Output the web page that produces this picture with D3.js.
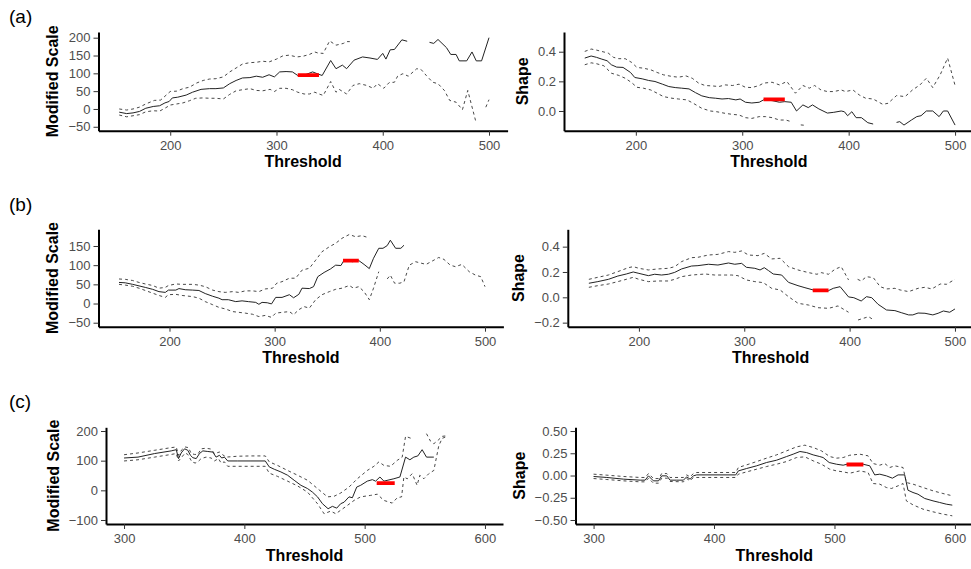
<!DOCTYPE html>
<html>
<head>
<meta charset="utf-8">
<script src="https://cdn.jsdelivr.net/npm/d3@7"></script>
<style>
  body { margin: 0; background: #fff; }
  svg { display: block; }
  .tick text { font-family: "Liberation Sans", Arial, Helvetica, sans-serif; font-size: 13px; fill: #4d4d4d; }
  .tick line { stroke: #333; stroke-width: 1; }
  .domain { stroke: #000; stroke-width: 2; }
  .axis-title { font-family: "Liberation Sans", Arial, Helvetica, sans-serif; font-weight: bold; font-size: 16px; fill: #000; }
  .row-label { font-family: "Liberation Sans", Arial, Helvetica, sans-serif; font-size: 19px; fill: #000; }
</style>
</head>
<body>
<svg id="chart" width="971" height="569"></svg>
<script>
// ---- data: [threshold, value], null = missing ----
const rowLabels = ["(a)", "(b)", "(c)"];
const xTicksAB = [200, 300, 400, 500];
const xTicksC = [300, 400, 500, 600];

const aScaleEst = [[152,-9],[159,-13],[165,-11],[171,-7],[177,2],[184,7],[190,9],[195,17],[199,21],[202,31],[207,33],[215,39],[221,47],[229,55],[237,57],[243,57],[250,59],[256,71],[262,80],[268,87],[275,88],[281,92],[287,89],[293,96],[298,90],[303,104],[309,105],[315,104],[320,94],[327,96],[334,104],[340,97],[343,94],[351,136],[356,113],[362,123],[366,113],[373,137],[381,146],[388,143],[395,139],[400,156],[403,140],[407,166],[411,167],[418,194],[423,190],[433,null],[444,187],[448,184],[452,195],[460,172],[464,153],[469,153],[472,135],[479,135],[484,160],[488,135],[493,135],[500,200]];
const aScaleHi = [[152,0],[159,-3],[165,0],[171,5],[177,14],[185,24],[191,25],[200,49],[206,50],[212,57],[218,61],[225,73],[231,80],[237,84],[243,85],[250,90],[256,104],[262,115],[268,126],[275,130],[281,131],[287,134],[293,132],[300,140],[306,149],[312,151],[319,146],[325,148],[331,153],[336,160],[339,157],[344,156],[350,191],[356,179],[363,184],[366,189],[369,189]];
const aScaleLo = [[152,-17],[159,-22],[165,-19],[171,-16],[177,-8],[184,-5],[190,-6],[195,2],[200,11],[206,14],[212,17],[218,23],[224,30],[231,31],[237,30],[243,30],[250,28],[256,41],[262,51],[268,54],[275,57],[281,52],[287,51],[294,55],[298,49],[303,58],[309,58],[315,54],[320,47],[326,42],[331,42],[336,47],[341,41],[344,38],[351,77],[356,47],[359,55],[366,42],[372,66],[378,71],[385,66],[391,58],[395,71],[401,58],[406,74],[411,75],[414,92],[419,99],[424,92],[432,113],[436,111],[441,94],[447,75],[452,71],[458,52],[463,24],[469,19],[475,-2],[480,52],[488,-40],[492,null],[497,5],[500,26]];
const aScaleRed = [320, 340, 95];

const aShapeEst = [[152,0.357],[158,0.371],[163,0.362],[168,0.35],[173,0.339],[177,0.312],[182,0.296],[188,0.294],[195,0.26],[199,0.226],[206,0.217],[212,0.206],[218,0.199],[225,0.181],[231,0.165],[237,0.158],[243,0.154],[250,0.149],[256,0.124],[262,0.102],[269,0.09],[275,0.086],[281,0.081],[287,0.084],[294,0.075],[298,0.081],[303,0.059],[309,0.054],[316,0.059],[320,0.075],[328,0.07],[335,0.059],[340,0.063],[346,0.059],[351,0],[357,0.041],[362,0.023],[366,0.041],[372,0.014],[380,-0.014],[386,-0.009],[393,0],[396,-0.005],[399,-0.032],[403,-0.005],[407,-0.045],[412,-0.045],[418,-0.079],[423,-0.088],[434,null],[445,-0.077],[448,-0.072],[452,-0.095],[459,-0.061],[464,-0.038],[468,-0.032],[473,0],[479,0],[485,-0.038],[489,0],[493,0],[500,-0.095]];
const aShapeHi = [[152,0.402],[158,0.418],[163,0.411],[170,0.398],[174,0.391],[179,0.362],[184,0.353],[190,0.353],[196,0.328],[201,0.294],[207,0.289],[214,0.278],[220,0.26],[226,0.244],[234,0.233],[240,0.228],[247,0.237],[253,0.221],[259,0.188],[265,0.172],[272,0.169],[278,0.165],[284,0.176],[291,0.172],[297,0.181],[303,0.16],[309,0.158],[316,0.172],[320,0.188],[328,0.194],[335,0.176],[342,0.199],[350,0.12],[357,0.172],[363,0.154],[368,0.172],[374,0.142],[380,0.131],[386,0.131],[393,0.142],[397,0.131],[404,0.142],[410,0.108],[416,0.086],[423,0.081],[432,0.045],[437,0.052],[445,0.104],[453,0.097],[460,0.142],[467,0.176],[473,0.221],[479,0.158],[486,0.244],[493,0.357],[500,0.172]];
const aShapeLo = [[152,0.312],[158,0.325],[163,0.319],[170,0.305],[177,0.255],[184,0.24],[190,0.221],[196,0.192],[201,0.16],[207,0.154],[214,0.142],[220,0.12],[226,0.097],[234,0.086],[240,0.081],[248,0.075],[254,0.052],[262,0.018],[270,0],[276,-0.005],[284,-0.016],[291,-0.023],[297,-0.027],[303,-0.045],[309,-0.05],[316,-0.038],[322,-0.038],[328,-0.045],[335,-0.061],[341,-0.061],[346,-0.072],[350,null],[355,-0.094],[358,-0.096]];
const aShapeRed = [320, 340, 0.079];

const bScaleEst = [[152,55],[158,54],[165,50],[171,46],[177,42],[184,37],[190,31],[196,29],[199,35],[206,35],[209,39],[215,36],[222,35],[228,34],[234,26],[241,19],[247,14],[250,10],[256,10],[263,5],[269,7],[275,5],[282,3],[285,-2],[288,3],[293,2],[297,-1],[301,16],[307,16],[314,23],[318,15],[323,24],[326,40],[333,39],[337,44],[341,70],[347,81],[353,90],[358,100],[363,99],[366,113],[374,109],[380,112],[385,102],[390,91],[394,118],[399,144],[403,144],[407,151],[410,165],[415,144],[420,144],[423,152]];
const bScaleHi = [[152,64],[158,63],[165,60],[171,55],[177,51],[184,47],[190,40],[196,42],[199,47],[206,51],[212,50],[222,50],[228,48],[234,44],[241,35],[247,31],[253,29],[260,31],[266,29],[272,33],[279,33],[285,31],[291,38],[298,40],[302,53],[307,57],[314,66],[320,66],[326,87],[333,92],[339,113],[345,135],[352,148],[358,157],[364,170],[371,180],[377,174],[383,177],[390,171]];
const bScaleLo = [[152,50],[158,48],[165,45],[171,40],[177,34],[184,27],[190,21],[196,16],[199,23],[206,24],[212,21],[222,18],[228,14],[234,5],[241,-3],[247,-10],[253,-14],[260,-21],[266,-23],[272,-25],[279,-28],[285,-34],[291,-31],[297,-36],[301,-25],[307,-23],[314,-21],[318,-29],[323,-16],[328,-8],[333,-12],[339,10],[345,23],[352,31],[358,37],[364,40],[371,47],[375,40],[380,44],[385,31],[390,10],[394,40],[399,83],[403,null],[407,64],[410,74],[414,53],[419,53],[423,57],[428,100],[434,109],[444,102],[450,111],[456,120],[461,115],[467,100],[472,96],[478,102],[485,83],[491,74],[496,70],[500,44]];
const bScaleRed = [365, 380, 112];

const bShapeEst = [[152.5,0.111],[161,0.124],[171,0.142],[180,0.168],[188,0.184],[194.6,0.2],[200,0.189],[209,0.171],[215,0.182],[221.5,0.176],[228,0.182],[234,0.197],[240.5,0.224],[250,0.247],[256,0.25],[266,0.261],[275,0.255],[285,0.271],[291,0.261],[297.5,0.268],[302,0.237],[310,0.229],[315,0.216],[319,0.234],[323,0.211],[327.5,0.184],[335.5,0.176],[342,0.118],[351,0.092],[357.6,0.076],[365.5,0.058],[380,0.053],[384.5,0.071],[391,0.084],[399,0.003],[404,-0.003],[411,-0.029],[416,0.005],[421,-0.003],[427,-0.055],[435,-0.1],[443,-0.105],[449,-0.121],[456,-0.139],[460,-0.139],[465,-0.124],[471.5,-0.126],[479,-0.139],[484,-0.126],[489,-0.108],[495,-0.118],[500,-0.092]];
const bShapeHi = [[152.5,0.142],[161,0.158],[171,0.176],[180,0.203],[190,0.234],[194.6,0.242],[200,0.229],[209,0.216],[218,0.224],[228,0.229],[234,0.242],[240.5,0.282],[250,0.313],[256,0.316],[266,0.334],[275,0.339],[285,0.361],[291,0.355],[297.5,0.366],[304,0.334],[313,0.329],[319,0.347],[326,0.303],[334,0.308],[342,0.242],[351,0.216],[361,0.195],[369,0.182],[373,0.195],[380,0.182],[386,0.221],[392,0.242],[399,0.137],[403,null],[407.6,0.142],[411,0.129],[416,0.163],[422.5,0.155],[429,0.084],[435,0.066],[443,0.071],[448,0.058],[456,0.045],[465,0.071],[471.5,0.079],[478,0.066],[486,0.105],[492,0.103],[500,0.142]];
const bShapeLo = [[152.5,0.079],[161,0.092],[171,0.105],[180,0.124],[188,0.142],[194.6,0.158],[200,0.142],[209,0.124],[218,0.129],[228,0.129],[234,0.142],[240.5,0.163],[250,0.176],[263,0.184],[272,0.176],[282,0.176],[288,0.176],[294,0.171],[302,0.137],[310,0.124],[318,0.116],[326,0.071],[334,0.058],[342,0.005],[351,-0.047],[361,-0.061],[370,-0.082],[380,-0.087],[389,-0.068],[399,-0.118],[403,null],[408,-0.179],[413,-0.166],[418,-0.153],[423,-0.179]];
const bShapeRed = [365, 380, 0.055];

const cScaleEst = [[300,109],[311.6,112],[325.4,124],[339.2,133],[343.4,137],[345.3,107],[347.5,126],[350.3,140],[353,135],[355.2,118],[357.2,110],[360,107],[362.7,124],[365.5,133],[369.6,131],[373.8,129],[376.5,112],[379.3,118],[381.2,109],[383.4,112],[386.2,99],[394.5,99],[405.5,99],[417.4,99],[420.7,79],[424.9,71],[430.4,62],[435.9,51],[441.4,34],[447,17],[452.5,6],[456.6,-6],[460.8,-22],[464.9,-45],[469.6,-62],[473.2,-54],[476.8,-60],[480.1,-45],[482.9,-40],[487,-22],[489.8,-25],[493.4,11],[496.7,17],[502.2,31],[506.4,36],[509.1,31],[512.7,45],[516,31],[524.3,39],[529.3,45],[534,112],[537.6,103],[540.9,112],[544.2,116],[547.8,137],[551.4,112],[557.5,112]];
const cScaleHi = [[300,120],[311.6,126],[325.4,135],[339.2,144],[343.4,146],[345.3,118],[348,137],[350.8,146],[353.6,144],[355.8,124],[358.6,121],[361.3,121],[364.1,140],[368.2,142],[372.4,139],[375.1,124],[379.3,129],[382,120],[384.8,112],[394.5,115],[405.5,116],[417.4,116],[420.7,96],[427.6,84],[435.9,67],[444.2,51],[452.5,34],[460.8,6],[469.1,-22],[474.6,-20],[480.1,-9],[487,11],[493.9,39],[502.2,67],[507.7,81],[511.9,96],[516,84],[521.5,81],[527.1,101],[531.2,112],[534,182],[539.5,174],[545,null],[551.4,191],[554.7,166],[557.5,157],[561.6,171],[564.4,182],[568.5,184]];
const cScaleLo = [[300,99],[311.6,103],[325.4,112],[339.2,121],[343.4,124],[345.3,99],[348,112],[350.8,126],[353,121],[356.4,96],[359.1,92],[361.3,96],[364.1,107],[368.2,112],[372.4,109],[375.1,99],[378.5,107],[380.7,92],[383.4,96],[386.2,81],[417.4,81],[420.7,58],[427.6,47],[435.9,31],[444.2,15],[452.5,-6],[460.8,-45],[466.3,-79],[471.8,-70],[476,-79],[480.1,-67],[485.6,-51],[491.2,-34],[496.7,-22],[505,-17],[510.5,-13],[516,-34],[522.9,-43],[527.1,-25],[530.7,-22],[532.6,45],[535.4,39],[539.5,56],[543.6,17],[545.9,51],[549.2,39],[553.3,56],[557.5,67],[561.6,150],[564.4,175],[568.5,182]];
const cScaleRed = [510, 525, 24];

const cShapeEst = [[300,-0.011],[311,-0.022],[325,-0.041],[338.7,-0.052],[342.8,-0.052],[345.6,-0.004],[349.7,-0.06],[353.9,-0.06],[356.6,-0.004],[360.8,-0.004],[363.5,-0.052],[369,-0.052],[374.6,-0.052],[377.3,-0.015],[380.1,-0.041],[382.9,-0.004],[385.6,0.007],[418,0.007],[420.2,0.052],[427.1,0.079],[435.4,0.109],[443.6,0.146],[451.9,0.172],[460.2,0.213],[465.7,0.24],[471.3,0.27],[476.8,0.258],[482.3,0.232],[487.8,0.213],[490.6,0.202],[495.6,0.146],[501.7,0.127],[507.2,0.116],[510.5,0.127],[523.8,0.127],[529.3,0.109],[533.4,0.007],[537.6,0.015],[543.1,-0.004],[548.1,-0.03],[552.8,0.007],[558.3,0.007],[561,-0.165],[565.2,-0.191],[569.3,-0.21],[574.9,-0.258],[581.8,-0.285],[587.3,-0.303],[592.8,-0.322],[597.8,-0.333]];
const cShapeHi = [[300,0.015],[311,0.004],[325,-0.011],[338.7,-0.022],[342.8,-0.022],[345.6,0.022],[349.7,-0.034],[353.9,-0.034],[356.6,0.022],[360.8,0.022],[363.5,-0.022],[374.6,-0.022],[377.3,0.007],[380.1,-0.015],[382.9,0.022],[385.6,0.034],[418,0.034],[420.2,0.09],[427.1,0.12],[435.4,0.157],[443.6,0.195],[451.9,0.232],[460.2,0.277],[468.5,0.322],[475.4,0.341],[482.3,0.315],[489.2,0.277],[496.1,0.213],[501.7,0.195],[507.2,0.202],[512.7,0.228],[521,0.24],[527.9,0.221],[532,0.135],[537.6,0.116],[541.7,0.135],[545.9,0.09],[550,0.109],[556.9,0.09],[559.7,-0.079],[565.2,-0.097],[573.5,-0.135],[581.8,-0.172],[590,-0.202],[597.8,-0.228]];
const cShapeLo = [[300,-0.034],[311,-0.045],[325,-0.06],[338.7,-0.071],[342.8,-0.071],[345.6,-0.03],[349.7,-0.086],[353.9,-0.086],[356.6,-0.03],[360.8,-0.03],[363.5,-0.067],[374.6,-0.071],[377.3,-0.034],[380.1,-0.06],[382.9,-0.022],[385.6,-0.022],[418,-0.022],[420.2,0.015],[427.1,0.041],[435.4,0.071],[443.6,0.101],[451.9,0.127],[460.2,0.157],[468.5,0.202],[475.4,0.21],[482.3,0.165],[489.2,0.127],[496.1,0.071],[501.7,0.052],[507.2,0.041],[512.7,0.026],[521,0.052],[527.9,0.034],[532,-0.09],[537.6,-0.097],[543.1,-0.135],[547.2,-0.146],[552.8,-0.116],[556.9,-0.09],[559.7,-0.285],[565.2,-0.33],[573.5,-0.378],[581.8,-0.408],[590,-0.434],[597.8,-0.453]];
const cShapeRed = [510, 524, 0.124];

// ---- layout ----
const svg = d3.select("#chart");

const panels = [
  { est: aScaleEst, lo: aScaleLo, hi: aScaleHi, red: aScaleRed, left: 98.5, right: 507.6, top: 32, bottom: 130.7,
    xDom: [132.5, 517.5], yDom: [-61, 216], xTicks: xTicksAB, yTicks: [-50, 0, 50, 100, 150, 200], fmt: "d", title: "Modified Scale" },
  { est: aShapeEst, lo: aShapeLo, hi: aShapeHi, red: aShapeRed, left: 564, right: 973.7, top: 32, bottom: 130.7,
    xDom: [132.5, 517.5], yDom: [-0.133, 0.533], xTicks: xTicksAB, yTicks: [0, 0.2, 0.4], fmt: ".1f", title: "Shape" },
  { est: bScaleEst, lo: bScaleLo, hi: bScaleHi, red: bScaleRed, left: 98.5, right: 503.4, top: 229.3, bottom: 326.7,
    xDom: [132.5, 517.5], yDom: [-60.4, 193.5], xTicks: xTicksAB, yTicks: [-50, 0, 50, 100, 150], fmt: "d", title: "Modified Scale" },
  { est: bShapeEst, lo: bShapeLo, hi: bShapeHi, red: bShapeRed, left: 567.8, right: 973.4, top: 229.3, bottom: 326.7,
    xDom: [132.5, 517.5], yDom: [-0.232, 0.537], xTicks: xTicksAB, yTicks: [-0.2, 0, 0.2, 0.4], fmt: ".1f", title: "Shape" },
  { est: cScaleEst, lo: cScaleLo, hi: cScaleHi, red: cScaleRed, left: 106, right: 503, top: 427.3, bottom: 524,
    xDom: [285, 615], yDom: [-113.5, 212.5], xTicks: xTicksC, yTicks: [-100, 0, 100, 200], fmt: "d", title: "Modified Scale" },
  { est: cShapeEst, lo: cShapeLo, hi: cShapeHi, red: cShapeRed, left: 575.5, right: 973, top: 427.3, bottom: 524,
    xDom: [285, 615], yDom: [-0.545, 0.542], xTicks: xTicksC, yTicks: [-0.5, -0.25, 0, 0.25, 0.5], fmt: ".2f", title: "Shape" }
];

const labelY = [23, 211, 408];
rowLabels.forEach((t, i) => {
  svg.append("text").attr("class", "row-label").attr("x", 9).attr("y", labelY[i]).text(t);
});

panels.forEach((p, i) => {
  const x = d3.scaleLinear().domain(p.xDom).range([p.left, p.right]);
  const y = d3.scaleLinear().domain(p.yDom).range([p.bottom, p.top]);

  const clipId = "clip" + i;
  svg.append("clipPath").attr("id", clipId)
    .append("rect")
    .attr("x", p.left).attr("y", p.top)
    .attr("width", p.right - p.left).attr("height", p.bottom - p.top);

  const g = svg.append("g").attr("clip-path", `url(#${clipId})`);

  const line = d3.line()
    .defined(d => d[1] !== null)
    .x(d => x(d[0]))
    .y(d => y(d[1]));

  // confidence bounds
  [p.lo, p.hi].forEach(s => {
    g.append("path").datum(s)
      .attr("d", line)
      .attr("fill", "none")
      .attr("stroke", "#333")
      .attr("stroke-width", 0.9)
      .attr("stroke-dasharray", "3,3");
  });

  g.append("path").datum(p.est)
    .attr("d", line)
    .attr("fill", "none")
    .attr("stroke", "#222")
    .attr("stroke-width", 1);

  // red segment
  g.append("line")
    .attr("x1", x(p.red[0])).attr("x2", x(p.red[1]))
    .attr("y1", y(p.red[2])).attr("y2", y(p.red[2]))
    .attr("stroke", "#ff0000")
    .attr("stroke-width", 3.8);

  // axes
  svg.append("g")
    .attr("transform", `translate(0,${p.bottom})`)
    .call(d3.axisBottom(x).tickValues(p.xTicks).tickSize(5).tickPadding(5).tickSizeOuter(0));

  const gy = svg.append("g")
    .attr("transform", `translate(${p.left},0)`)
    .call(d3.axisLeft(y).tickValues(p.yTicks).tickFormat(d3.format(p.fmt)).tickSize(5).tickPadding(3).tickSizeOuter(0));

  let maxW = 0;
  gy.selectAll(".tick text").each(function () {
    maxW = Math.max(maxW, this.getComputedTextLength());
  });

  svg.append("text").attr("class", "axis-title")
    .attr("x", (p.left + p.right) / 2)
    .attr("y", p.bottom + 36.5)
    .attr("text-anchor", "middle")
    .text("Threshold");

  const tx = p.left - 8 - maxW - 10;
  svg.append("text").attr("class", "axis-title")
    .attr("transform", `translate(${tx},${(p.top + p.bottom) / 2}) rotate(-90)`)
    .attr("text-anchor", "middle")
    .text(p.title);
});
</script>
</body>
</html>
